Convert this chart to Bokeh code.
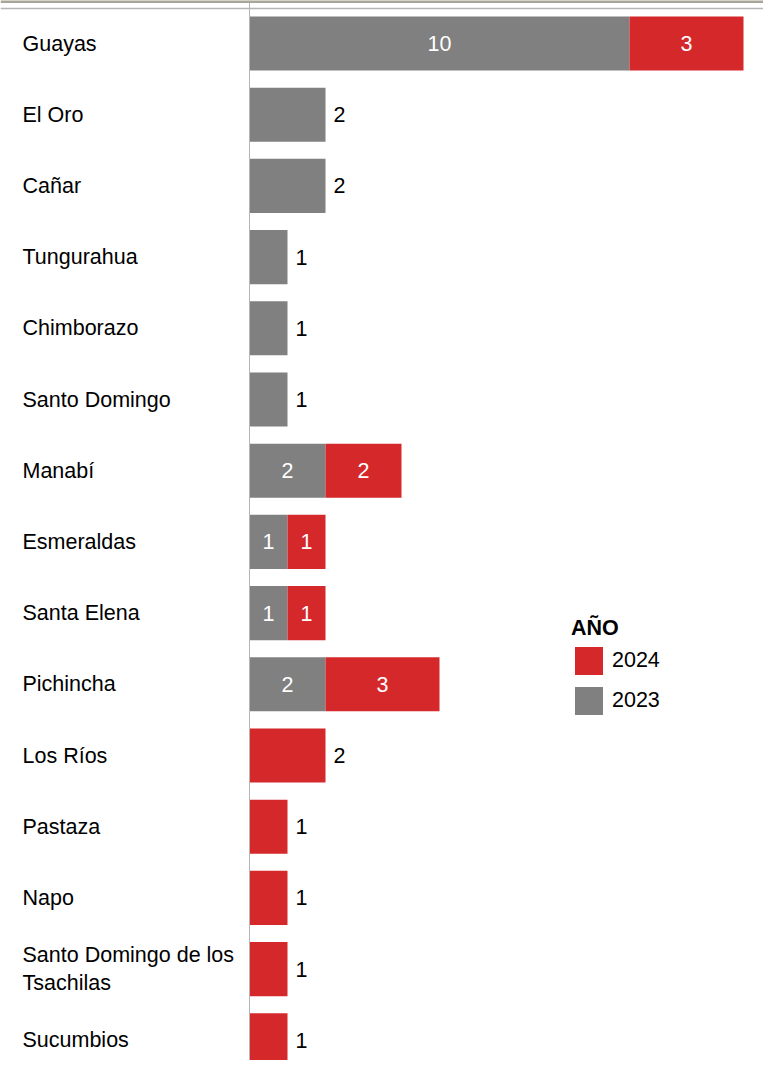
from bokeh.plotting import figure
from bokeh.models import Range1d, Span, Legend, ColumnDataSource
from bokeh.core.properties import value
from bokeh.embed import file_html
from bokeh.resources import INLINE

provinces = ["Guayas", "El Oro", "Cañar", "Tungurahua", "Chimborazo", "Santo Domingo",
             "Manabí", "Esmeraldas", "Santa Elena", "Pichincha", "Los Ríos", "Pastaza",
             "Napo", "Santo Domingo de los\nTsachilas", "Sucumbios"]
v2023 = [10, 2, 2, 1, 1, 1, 2, 1, 1, 2, 0, 0, 0, 0, 0]
v2024 = [3, 0, 0, 0, 0, 0, 2, 1, 1, 3, 2, 1, 1, 1, 1]

GRAY = "#808080"
RED = "#d5282a"
FONT = "Liberation Sans"
FS = "21.5px"
TXT = "#000000"

ypos = list(range(len(provinces)))
unit_px = 38.0
row_px = 71.2
W, H = 763, 1060
axis_px = 249
top_off = -43 / row_px  # data value at figure top

p = figure(width=W, height=H, output_backend="svg", toolbar_location=None,
           x_axis_location=None, y_axis_location=None,
           x_range=Range1d(-axis_px / unit_px, (W - axis_px) / unit_px),
           y_range=Range1d(top_off + H / row_px, top_off),
           min_border=0, min_border_left=0, min_border_right=0,
           min_border_top=0, min_border_bottom=0)
p.outline_line_color = None
p.xgrid.visible = False
p.ygrid.visible = False
p.background_fill_color = "white"

src = ColumnDataSource(dict(y=ypos, a=v2023, b=v2024,
                            ab=[a + b for a, b in zip(v2023, v2024)]))
r23 = p.hbar(y="y", left=0, right="a", height=0.76, source=src,
             fill_color=GRAY, line_color=None)
r24 = p.hbar(y="y", left="a", right="ab", height=0.76, source=src,
             fill_color=RED, line_color=None)

# category labels
p.text(x=[(22 - axis_px) / unit_px] * len(provinces), y=ypos, text=provinces,
       text_font=value(FONT), text_font_size=FS, text_color=TXT,
       text_align="left", text_baseline="middle", text_line_height=1.17)

# value labels
in_x, in_y, in_t = [], [], []
out_x, out_y, out_t = [], [], []
for i, (a, b) in enumerate(zip(v2023, v2024)):
    if a > 0 and b > 0:
        in_x += [a / 2, a + b / 2]
        in_y += [i, i]
        in_t += [str(a), str(b)]
    else:
        v = a + b
        out_x.append(v)
        out_y.append(i)
        out_t.append(str(v))
p.text(x=in_x, y=in_y, text=in_t, text_font=value(FONT), text_font_size=FS,
       text_color="white", text_align="center", text_baseline="middle")
p.text(x=out_x, y=out_y, text=out_t, text_font=value(FONT), text_font_size=FS,
       text_color=TXT, text_align="left", text_baseline="middle", x_offset=8)

p.add_layout(Span(location=0, dimension="height", line_color="#b5b5b5", line_width=1))
p.add_layout(Span(location=top_off + 8 / row_px, dimension="width",
                  line_color="#b5b5b5", line_width=1.5))
p.add_layout(Span(location=top_off + 1 / row_px, dimension="width",
                  line_color="#a8a698", line_width=3))

legend = Legend(items=[("2024", [r24]), ("2023", [r23])], title="AÑO",
                location=(571, H - 718), border_line_color=None, background_fill_alpha=0,
                glyph_width=35, glyph_height=35, label_height=35,
                label_text_font=FONT, label_text_font_size=FS, label_text_color=TXT,
                title_text_font=FONT, title_text_font_size=FS, title_text_color=TXT,
                title_text_font_style="bold", spacing=5, padding=0, margin=0,
                label_standoff=6, title_standoff=2)
p.add_layout(legend)

open("out.html", "w").write(file_html(p, INLINE))
